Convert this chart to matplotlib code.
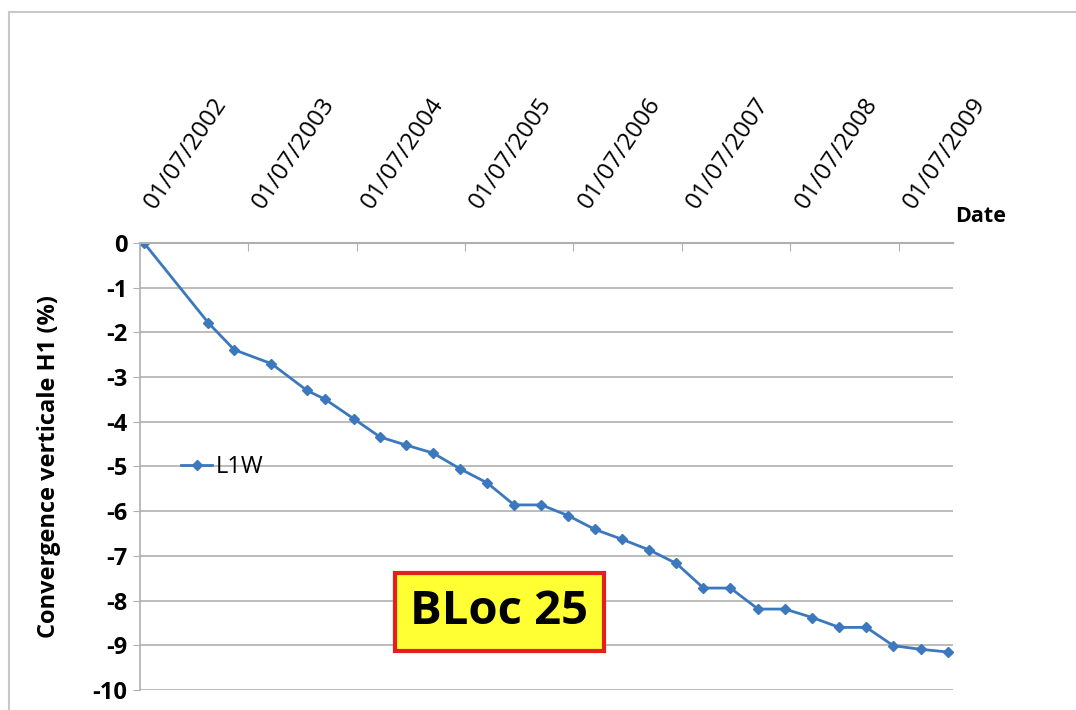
import matplotlib
matplotlib.use("Agg")
import matplotlib.pyplot as plt
import pandas as pd
from matplotlib.patches import Rectangle

# -----------------------------------------------------------------------------
# Data
# -----------------------------------------------------------------------------
dates = [
    "2002-07-15", "2003-02-17", "2003-05-15", "2003-09-17", "2004-01-15",
    "2004-03-17", "2004-06-20", "2004-09-17", "2004-12-13", "2005-03-15",
    "2005-06-13", "2005-09-14", "2005-12-13", "2006-03-15", "2006-06-13",
    "2006-09-12", "2006-12-12", "2007-03-14", "2007-06-13", "2007-09-12",
    "2007-12-12", "2008-03-14", "2008-06-13", "2008-09-13", "2008-12-13",
    "2009-03-14", "2009-06-13", "2009-09-13", "2009-12-13",
]
l1w = [
    0.0, -1.79, -2.39, -2.70, -3.30,
    -3.50, -3.93, -4.34, -4.52, -4.70,
    -5.05, -5.37, -5.86, -5.86, -6.10,
    -6.41, -6.63, -6.87, -7.17, -7.72,
    -7.72, -8.19, -8.19, -8.38, -8.60,
    -8.60, -9.01, -9.09, -9.15,
]
tick_dates = [f"{y}-07-01" for y in range(2002, 2010)]
tick_labels = [f"01/07/{y}" for y in range(2002, 2010)]
y_ticks = list(range(0, -11, -1))

x = pd.to_datetime(dates)
xt = pd.to_datetime(tick_dates)

# -----------------------------------------------------------------------------
# Figure
# -----------------------------------------------------------------------------
plt.rcParams["font.family"] = ["Open Sans", "DejaVu Sans"]

fig = plt.figure(figsize=(10.76, 7.10), dpi=100)
ax = fig.add_axes([0.130, 0.0282, 0.756, 0.6296])

grid_col = "#b0b0b0"
line_col = "#3b78bd"

ax.plot(x, l1w, color=line_col, lw=2, marker="D", ms=5, label="L1W")

ax.set_ylim(-10, 0)
ax.set_xlim(pd.Timestamp("2002-07-01"), pd.Timestamp("2010-01-01"))
ax.set_yticks(y_ticks)
ax.set_yticklabels([str(v) for v in y_ticks], fontsize=17, fontweight="bold")
ax.yaxis.grid(True, color=grid_col, lw=1.2)
ax.set_axisbelow(True)

# date axis sits on top, at y = 0
ax.xaxis.tick_top()
ax.set_xticks(xt)
ax.set_xticklabels(tick_labels, fontsize=17.5, rotation=56,
                   ha="left", va="top", rotation_mode="anchor")
ax.tick_params(axis="x", direction="in", length=6, color=grid_col, pad=31)
ax.tick_params(axis="y", direction="out", length=5, color=grid_col, pad=4)

for side in ["right", "bottom"]:
    ax.spines[side].set_visible(False)
ax.spines["top"].set_color(grid_col)
ax.spines["top"].set_linewidth(1.5)
ax.spines["left"].set_color(grid_col)
ax.spines["left"].set_linewidth(1.2)

ax.set_ylabel("Convergence verticale H1 (%)", fontsize=17, fontweight="bold",
              labelpad=23)

ax.text(1.002, 1.035, "Date", transform=ax.transAxes, fontsize=15.5,
        fontweight="bold", ha="left", va="bottom")

ax.legend(loc="upper left", bbox_to_anchor=(0.025, 0.573), frameon=False,
          fontsize=17, handlelength=1.3, handletextpad=0.15)

# "BLoc 25" label box
ax.text(0.442, 0.1745, "BLoc 25", transform=ax.transAxes, fontsize=34,
        fontweight="bold", ha="center", va="center",
        bbox=dict(boxstyle="square,pad=0.32", fc="#ffff33", ec="#e3201b", lw=3))

# outer chart frame
fig.patches.append(Rectangle((0.008, -0.01), 1.0, 0.993, transform=fig.transFigure,
                             fill=False, ec="#c8c8c8", lw=1.5))

fig.savefig("out.png", dpi=100)
